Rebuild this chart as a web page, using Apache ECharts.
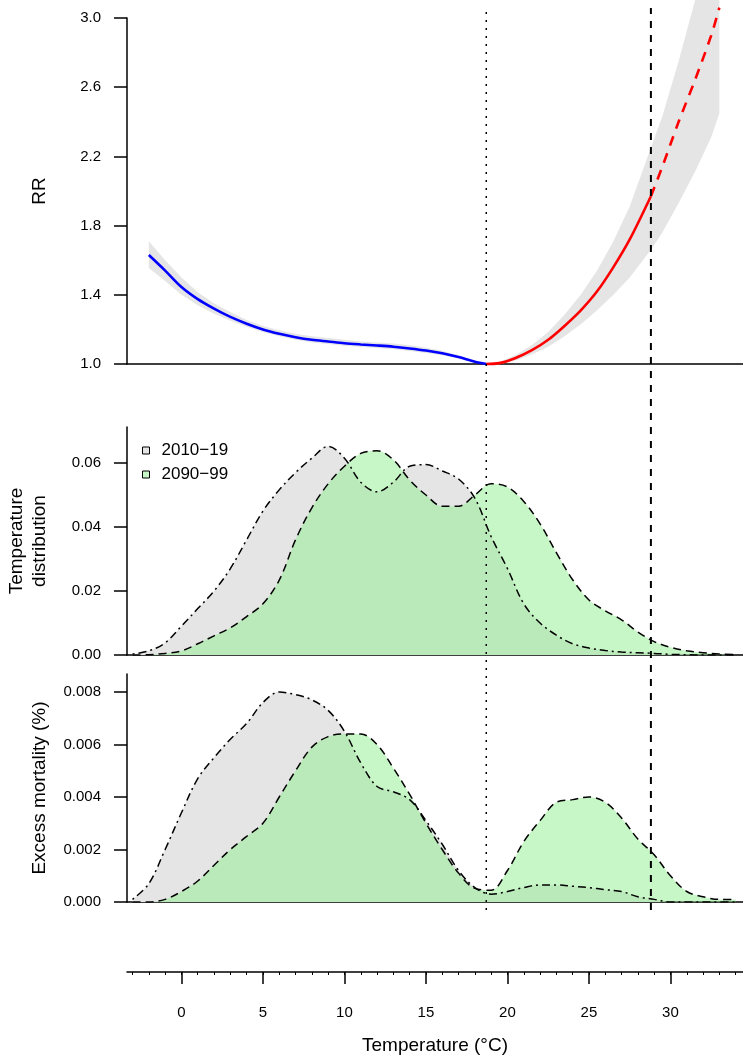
<!DOCTYPE html>
<html>
<head>
<meta charset="utf-8">
<script src="https://cdn.jsdelivr.net/npm/echarts@6/dist/echarts.min.js"></script>
<style>
  html, body { margin: 0; padding: 0; background: #fff; }
  #chart { width: 743px; height: 1061px; }
</style>
</head>
<body>
<div id="chart"></div>
<script>
// reference temperatures
const mmt = 18.7;
const threshold = 28.8;

// exposure-response curve (relative risk)
const rrTemp = [-2, -1, 0, 1, 2, 3, 4, 5, 6, 7, 8, 9, 10, 11, 12, 13, 14, 15, 16, 17, 18, 18.7,
  19.5, 20.5, 21.5, 22.5, 23.5, 24.5, 25.5, 26.5, 27.5, 28.8, 29.5, 30.5, 31.5, 32.5, 33];
const rrFit = [1.63, 1.54, 1.445, 1.375, 1.32, 1.272, 1.233, 1.2, 1.175, 1.155, 1.14, 1.13, 1.12, 1.113,
  1.107, 1.1, 1.09, 1.078, 1.062, 1.04, 1.013, 1.0,
  1.005, 1.035, 1.08, 1.14, 1.22, 1.31, 1.42, 1.56, 1.72, 1.97, 2.14, 2.4, 2.64, 2.9, 3.06];
const rrLow = [1.555, 1.48, 1.4, 1.34, 1.29, 1.25, 1.215, 1.185, 1.16, 1.14, 1.125, 1.115, 1.105, 1.098,
  1.092, 1.085, 1.075, 1.064, 1.05, 1.032, 1.008, 1.0,
  0.998, 1.02, 1.055, 1.1, 1.16, 1.23, 1.31, 1.4, 1.5, 1.66, 1.76, 1.93, 2.11, 2.31, 2.45];
const rrHigh = [1.71, 1.6, 1.5, 1.415, 1.35, 1.3, 1.255, 1.22, 1.195, 1.175, 1.16, 1.15, 1.14, 1.13,
  1.125, 1.118, 1.108, 1.094, 1.076, 1.05, 1.018, 1.0,
  1.012, 1.052, 1.11, 1.185, 1.285, 1.4, 1.54, 1.71, 1.91, 2.25, 2.43, 2.75, 3.1, 3.5, 3.7];
const rrTicks = [1.0, 1.4, 1.8, 2.2, 2.6, 3.0];

// temperature distribution and excess mortality by period
const periods = ['2010\u221219', '2090\u221299'];
const distTemp = [-3, -2, -1, 0, 1, 2, 3, 4, 5, 6, 7, 8, 9, 10, 11, 12, 13, 14, 15, 16, 17, 18, 19,
  20, 21, 22, 23, 24, 25, 26, 27, 28, 29, 30, 31, 32, 33, 34];
const dist2010 = [0.0003, 0.0013, 0.0038, 0.009, 0.0145, 0.02, 0.027, 0.036, 0.045, 0.0516, 0.057,
  0.0615, 0.0652, 0.0615, 0.054, 0.051, 0.054, 0.059, 0.0595, 0.0575, 0.055, 0.049, 0.037,
  0.027, 0.016, 0.01, 0.0062, 0.0035, 0.0022, 0.0014, 0.0009, 0.0007, 0.0005, 0.0002, 0.0001, 0, 0, 0];
const dist2090 = [0, 0.0001, 0.0005, 0.0013, 0.0035, 0.006, 0.0085, 0.012, 0.016, 0.0234, 0.036,
  0.046, 0.0535, 0.059, 0.063, 0.0638, 0.061, 0.0547, 0.05, 0.0465, 0.0465, 0.05, 0.0535,
  0.0525, 0.048, 0.041, 0.032, 0.0235, 0.0172, 0.0138, 0.011, 0.0072, 0.0042, 0.0024, 0.0013, 0.0007, 0.0003, 0.0001];
const excess2010 = [0.0001, 0.0007, 0.002, 0.0034, 0.0047, 0.0055, 0.0062, 0.0068, 0.0076, 0.008,
  0.0079, 0.0077, 0.0073, 0.0065, 0.0053, 0.0044, 0.0042, 0.0039, 0.0031, 0.0022, 0.0012, 0.00055, 0.0003,
  0.0004, 0.00055, 0.00065, 0.00065, 0.0006, 0.00055, 0.00047, 0.0004, 0.0002, 0.0001, 0, 0, 0, 0, 0];
const excess2090 = [0, 0, 0.0001, 0.0004, 0.0008, 0.0014, 0.002, 0.0025, 0.003, 0.004, 0.005,
  0.0059, 0.0063, 0.0064, 0.0064, 0.006, 0.0051, 0.0041, 0.003, 0.002, 0.0011, 0.00052, 0.00045,
  0.0012, 0.0023, 0.0031, 0.0038, 0.0039, 0.004, 0.0038, 0.0032, 0.0024, 0.0018, 0.001, 0.0004, 0.0002, 0.0001, 0.0001];
const distTicks = [0, 0.02, 0.04, 0.06];
const excessTicks = [0, 0.002, 0.004, 0.006, 0.008];
const tempTicks = [0, 5, 10, 15, 20, 25, 30];
const tempMinorTicks = distTemp;

const xMin = -3.34;
const xMax = 34.45;
const font = 'Liberation Sans, Arial, Helvetica, sans-serif';
const grayFill = '#e5e5e5';
const greenFill = 'rgba(144,238,144,0.5)';

const zip = (xs, ys) => xs.map((x, i) => [x, ys[i]]);
const rrPart = (lo, hi) => rrTemp.map((t, i) => [t, rrFit[i]]).filter(d => d[0] >= lo && d[0] <= hi);

const chart = echarts.init(document.getElementById('chart'));

function panelX(gridIndex) {
  return {
    type: 'value', gridIndex, min: xMin, max: xMax,
    axisLine: { show: true, onZero: false, lineStyle: { color: '#000', width: 1.5 } },
    axisTick: { show: false }, axisLabel: { show: false }, splitLine: { show: false }
  };
}

function panelY(gridIndex, min, max, ticks, digits, name) {
  return {
    type: 'value', gridIndex, min, max, position: 'left',
    name, nameLocation: 'middle', nameGap: 76, nameRotate: 90,
    nameTextStyle: { fontFamily: font, fontSize: 19, color: '#000', lineHeight: 23 },
    axisLine: { show: true, onZero: false, lineStyle: { color: '#000', width: 1.5 } },
    axisTick: { show: true, length: 13, customValues: ticks, lineStyle: { color: '#000', width: 1.5 } },
    axisLabel: { customValues: ticks, margin: 26, fontFamily: font, fontSize: 15, color: '#000',
      formatter: v => v.toFixed(digits) },
    splitLine: { show: false }
  };
}

function areaSeries(name, axis, data, lineType) {
  return {
    name, type: 'line', xAxisIndex: axis, yAxisIndex: axis, data,
    smooth: 0.35, symbol: 'none',
    itemStyle: { color: name === periods[0] ? grayFill : greenFill },
    lineStyle: { color: '#000', width: 1.5, type: lineType },
    areaStyle: { color: name === periods[0] ? grayFill : greenFill, opacity: 1 }
  };
}

const dotDash = [2, 4, 8, 4];
const dashed = [8, 5];
const gridBase = { left: 127, right: 0, outerBoundsMode: 'none' };

chart.setOption({
  animation: false,
  backgroundColor: '#fff',
  grid: [
    { ...gridBase, top: 18, bottom: 697 },
    { ...gridBase, top: 427, bottom: 406 },
    { ...gridBase, top: 674, bottom: 159 },
    { ...gridBase, top: 960, bottom: 89 },
    { ...gridBase, top: 8, bottom: 151 }
  ],
  legend: {
    orient: 'vertical', left: 142, top: 442, padding: 0,
    icon: 'rect', itemWidth: 7, itemHeight: 7, itemGap: 7,
    itemStyle: { borderColor: '#000', borderWidth: 1 },
    textStyle: { fontFamily: font, fontSize: 17, color: '#000', lineHeight: 17, padding: [0, 0, 0, 7] },
    data: periods
  },
  xAxis: [
    panelX(0), panelX(1), panelX(2),
    {
      type: 'value', gridIndex: 3, min: xMin, max: xMax,
      name: 'Temperature (\u00b0C)', nameLocation: 'middle', nameGap: 64,
      nameTextStyle: { fontFamily: font, fontSize: 19, color: '#000' },
      axisLine: { show: true, onZero: false, lineStyle: { color: '#000', width: 1.5 } },
      axisTick: { show: true, length: 12, customValues: tempTicks, lineStyle: { color: '#000', width: 1.5 } },
      axisLabel: { customValues: tempTicks, margin: 33, fontFamily: font, fontSize: 15, color: '#000' },
      splitLine: { show: false }
    },
    {
      type: 'value', gridIndex: 3, min: xMin, max: xMax,
      axisLine: { show: false },
      axisTick: { show: true, inside: true, length: 3, customValues: tempMinorTicks,
        lineStyle: { color: '#000', width: 1 } },
      axisLabel: { show: false }, splitLine: { show: false }
    },
    { type: 'value', gridIndex: 4, min: xMin, max: xMax, show: false }
  ],
  yAxis: [
    panelY(0, 1, 3, rrTicks, 1, 'RR'),
    panelY(1, 0, 0.07125, distTicks, 2, 'Temperature\ndistribution'),
    panelY(2, 0, 0.008686, excessTicks, 3, 'Excess mortality (%)'),
    { type: 'value', gridIndex: 3, show: false, min: 0, max: 1 },
    { type: 'value', gridIndex: 4, show: false, min: 0, max: 1 }
  ],
  series: [
    // confidence band as one polygon through the axis scales
    {
      type: 'custom', xAxisIndex: 0, yAxisIndex: 0, clip: false,
      data: rrTemp.map((t, i) => [t, rrLow[i], rrHigh[i]]),
      encode: { x: 0, y: [1, 2] },
      renderItem: (params, api) => {
        if (params.dataIndex !== 0) return null;
        const lower = rrTemp.map((t, i) => api.coord([t, rrLow[i]]));
        const upper = rrTemp.map((t, i) => api.coord([t, rrHigh[i]])).reverse();
        return { type: 'polygon', shape: { points: lower.concat(upper) }, style: { fill: grayFill } };
      }
    },
    {
      type: 'line', xAxisIndex: 0, yAxisIndex: 0, clip: false, data: rrPart(-99, mmt),
      symbol: 'none', smooth: 0.3, lineStyle: { color: '#0000ff', width: 2.6 }
    },
    {
      type: 'line', xAxisIndex: 0, yAxisIndex: 0, clip: false, data: rrPart(mmt, threshold),
      symbol: 'none', smooth: 0.3, lineStyle: { color: '#ff0000', width: 2.6 }
    },
    {
      type: 'line', xAxisIndex: 0, yAxisIndex: 0, clip: false, data: rrPart(threshold, 99),
      symbol: 'none', smooth: 0.3, lineStyle: { color: '#ff0000', width: 2.6, type: [10, 8] }
    },
    areaSeries(periods[0], 1, zip(distTemp, dist2010), dotDash),
    areaSeries(periods[1], 1, zip(distTemp, dist2090), dashed),
    areaSeries(periods[0], 2, zip(distTemp, excess2010), dotDash),
    areaSeries(periods[1], 2, zip(distTemp, excess2090), dashed),
    // reference lines across all panels
    {
      type: 'line', xAxisIndex: 5, yAxisIndex: 4, data: [[mmt, 0], [mmt, 1]], symbol: 'none',
      lineStyle: { color: '#000', width: 1.5, type: [2, 6] }
    },
    {
      type: 'line', xAxisIndex: 5, yAxisIndex: 4, data: [[threshold, 0], [threshold, 1]], symbol: 'none',
      lineStyle: { color: '#000', width: 2, type: [7, 7] }
    }
  ]
});
</script>
</body>
</html>
